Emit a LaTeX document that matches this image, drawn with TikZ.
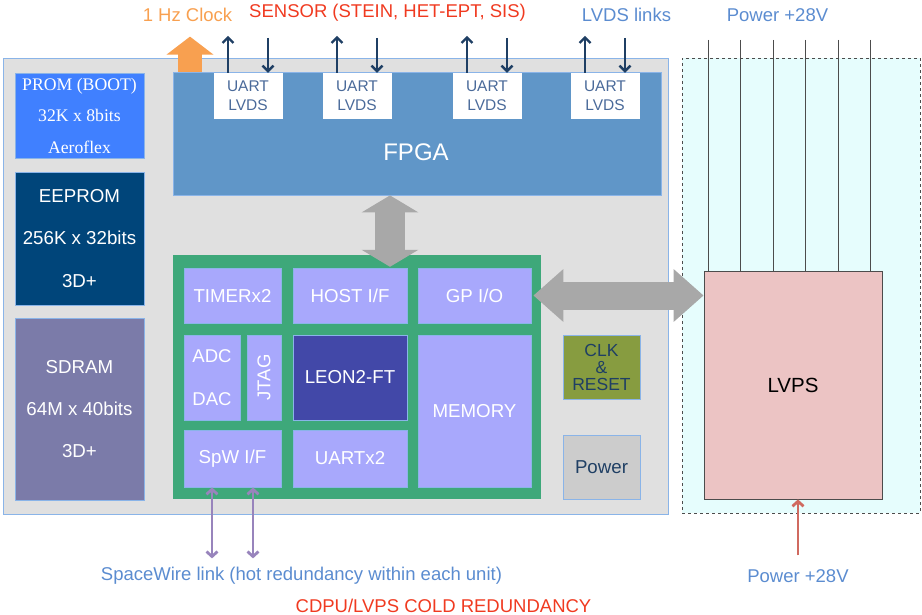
\documentclass[tikz,border=0pt]{standalone}
\usepackage{fontspec}
\setmainfont{Liberation Sans}
\newfontfamily\promfont{Liberation Serif}
\usetikzlibrary{arrows.meta}

\definecolor{bgray}{HTML}{E0E0E0}
\definecolor{edgeblue}{HTML}{8AB4E8}
\definecolor{lvcyan}{HTML}{E6FDFD}
\definecolor{promblue}{HTML}{4080FF}
\definecolor{eepblue}{HTML}{00457A}
\definecolor{sdramc}{HTML}{7B7BA9}
\definecolor{fpgablue}{HTML}{6096C8}
\definecolor{leongreen}{HTML}{3EA87A}
\definecolor{lavender}{HTML}{A8A8FC}
\definecolor{leoncore}{HTML}{4248A8}
\definecolor{olive}{HTML}{879C40}
\definecolor{pwrgray}{HTML}{CCCCCC}
\definecolor{lvpsred}{HTML}{ECC4C4}
\definecolor{arrowgray}{HTML}{A8A8A8}
\definecolor{clockorange}{HTML}{F8A050}
\definecolor{sensred}{HTML}{F03A20}
\definecolor{linkblue}{HTML}{5B8CD0}
\definecolor{navy}{HTML}{1F3F64}
\definecolor{uarttext}{HTML}{4A6A9A}
\definecolor{spwpurple}{HTML}{9884BC}
\definecolor{pwrarrowred}{HTML}{D06A60}

\begin{document}
\begin{tikzpicture}[x=1pt, y=-1pt,
    every node/.style={inner sep=0pt, align=center},
    box/.style={draw=edgeblue, line width=0.8pt, text=white, font=\fontsize{18.7}{22}\selectfont},
    chip/.style={box, fill=lavender},
    uart/.style={fill=white, minimum width=69pt, minimum height=46pt, text=uarttext, font=\fontsize{15.5}{19}\selectfont},
    toplabel/.style={font=\fontsize{18.5}{22}\selectfont},
    lvdsarrow/.style={navy, line width=1.5pt, -{Straight Barb[length=5.5pt, width=11pt, line width=2.4pt]}},
    spwarrow/.style={spwpurple, line width=2.5pt, {Straight Barb[length=5pt, width=11pt, line width=2.8pt]}-{Straight Barb[length=5pt, width=11pt, line width=2.8pt]}},
    busarrow/.style={arrowgray, line width=#1}]
  \useasboundingbox (0,0) rectangle (922,615);

  % CDPU and LVPS frames
  \node[draw=edgeblue, line width=0.8pt, fill=bgray, minimum width=665pt, minimum height=456pt] (cdpu) at (335.5,286) {};
  \node[draw=black!70, dashed, fill=lvcyan, minimum width=238pt, minimum height=455pt] (lvframe) at (801,285.5) {};

  % memories
  \node[box, fill=promblue, minimum width=129pt, minimum height=85pt, font=\promfont\fontsize{17.7}{31.5}\selectfont] (prom) at (79.5,115.5) {PROM (BOOT)\\32K x 8bits\\Aeroflex};
  \node[box, fill=eepblue, minimum width=129pt, minimum height=133pt, font=\fontsize{18.7}{42.5}\selectfont] (eeprom) at (79.5,238.5) {EEPROM\\256K x 32bits\\3D+};
  \node[box, fill=sdramc, minimum width=129pt, minimum height=182pt, font=\fontsize{18.7}{42}\selectfont] (sdram) at (79.5,409) {SDRAM\\64M x 40bits\\3D+};

  % FPGA with UART/LVDS ports
  \node[box, fill=fpgablue, minimum width=488pt, minimum height=123pt] (fpga) at (417,133.5) {};
  \node[text=white, font=\fontsize{24}{28}\selectfont] (fpgatxt) at (416,152) {FPGA};
  \foreach \x [count=\i] in {248,357,487,605} {
    \node[uart] (u\i) at (\x,96) {UART\\LVDS};
    \draw[lvdsarrow] ([xshift=-20pt]u\i.north) -- ++(0,-37);
    \draw[lvdsarrow] ([xshift=20pt,yshift=35pt]u\i.north) -- ([xshift=20pt]u\i.north);
  }
  \draw[clockorange, line width=24pt, -{Triangle[length=18pt, width=46pt]}] ([xshift=-227pt]fpga.north) -- ++(0,-35);

  % LEON2-FT processor
  \node[fill=leongreen, minimum width=368pt, minimum height=244pt] (leon) at (357,377) {};
  \node[chip, minimum width=97pt, minimum height=55pt] (timer) at (232.5,295.5) {TIMERx2};
  \node[chip, minimum width=114pt, minimum height=55pt] (host) at (350,295.5) {HOST I/F};
  \node[chip, minimum width=113pt, minimum height=55pt] (gpio) at (474.5,295.5) {GP I/O};
  \node[chip, minimum width=56pt, minimum height=85pt, font=\fontsize{18.5}{43}\selectfont] (adc) at (212,377.5) {ADC\\DAC};
  \node[chip, minimum width=34pt, minimum height=85pt] (jtagbox) at (264,377.5) {};
  \node[text=white, rotate=90, font=\fontsize{18.5}{22}\selectfont] (jtag) at (264,377.5) {JTAG};
  \node[box, fill=leoncore, minimum width=114pt, minimum height=85pt] (core) at (350,377.5) {LEON2-FT};
  \node[chip, minimum width=113pt, minimum height=152pt] (memory) at (474.5,411) {MEMORY};
  \node[chip, minimum width=97pt, minimum height=57pt] (spw) at (232.5,458.5) {SpW I/F};
  \node[chip, minimum width=114pt, minimum height=57pt] (uartx) at (350,458.5) {UARTx2};

  % support blocks
  \node[box, fill=olive, text=navy, minimum width=77pt, minimum height=64pt, font=\fontsize{17.5}{17}\selectfont] (clk) at (601.5,367) {CLK\\\&\\RESET};
  \node[box, fill=pwrgray, text=navy, minimum width=77pt, minimum height=64pt] (power) at (601.5,467) {Power};
  \node[draw=black!70, line width=0.8pt, fill=lvpsred, minimum width=178pt, minimum height=228pt, font=\fontsize{20.5}{24}\selectfont] (lvps) at (793,385) {LVPS};

  % buses
  \draw[busarrow=30pt, {Triangle[length=17pt, width=56pt]}-{Triangle[length=17pt, width=56pt]}] ([xshift=-27pt]fpga.south) -- ([xshift=-27pt, yshift=-12pt]fpga.south |- leon.north);
  \draw[busarrow=28pt, {Triangle[length=30pt, width=51pt]}-{Triangle[length=30pt, width=51pt]}] ([xshift=2pt]gpio.east) -- (gpio.east -| lvps.west);

  % power input lines
  \foreach \i in {0,...,5} {
    \coordinate (pw\i) at (708+32.5*\i,40);
    \draw[black!70, line width=1pt] (pw\i) -- (pw\i |- lvps.north);
  }
  \draw[pwrarrowred, line width=2.5pt, -{Straight Barb[length=5pt, width=11pt, line width=2.8pt]}] ([xshift=5pt, yshift=-56pt]lvps.south) -- ([xshift=5pt]lvps.south);

  % SpaceWire links
  \draw[spwarrow] ([xshift=-20.5pt]spw.south) -- ++(0,71);
  \draw[spwarrow] ([xshift=20.5pt]spw.south) -- ++(0,71);

  % labels
  \node[toplabel, text=clockorange] (clocklbl) at (187.5,15) {1 Hz Clock};
  \node[toplabel, text=sensred] (sensorlbl) at (387.5,13) {SENSOR (STEIN, HET-EPT, SIS)};
  \node[toplabel, text=linkblue] (lvdslbl) at (626.5,15) {LVDS links};
  \node[toplabel, text=linkblue] (pwrtop) at (777.5,15) {Power +28V};
  \node[toplabel, text=linkblue] (pwrbot) at (798,576) {Power +28V};
  \node[toplabel, text=linkblue] (spwlbl) at (301.5,576) {SpaceWire link (hot redundancy within each unit)};
  \node[toplabel, text=sensred] (redund) at (443.5,606) {CDPU/LVPS COLD REDUNDANCY};
\end{tikzpicture}
\end{document}
